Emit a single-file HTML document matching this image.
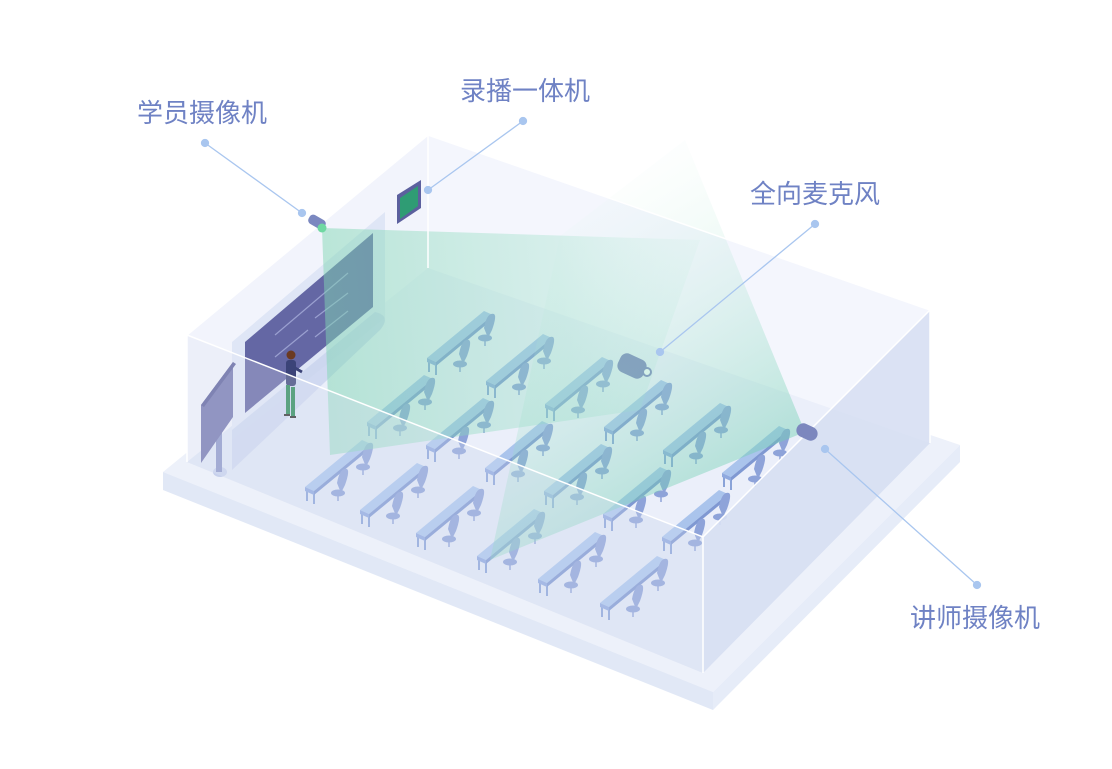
<!DOCTYPE html>
<html><head><meta charset="utf-8"><style>
html,body{margin:0;padding:0;background:#fff;}
svg{display:block;}
text{font-family:"Liberation Sans","Noto Sans CJK SC",sans-serif;font-size:26px;fill:#6f82c4;}
</style></head><body>
<svg width="1112" height="769" viewBox="0 0 1112 769" xmlns="http://www.w3.org/2000/svg">
<defs>
<linearGradient id="g1" x1="320" y1="300" x2="720" y2="260" gradientUnits="userSpaceOnUse">
<stop offset="0" stop-color="#7fd6b2" stop-opacity="0.5"/>
<stop offset="0.6" stop-color="#8fdcc0" stop-opacity="0.3"/>
<stop offset="1" stop-color="#bfeede" stop-opacity="0.08"/>
</linearGradient>
<linearGradient id="g2" x1="805" y1="432" x2="650" y2="170" gradientUnits="userSpaceOnUse">
<stop offset="0" stop-color="#6fcfb0" stop-opacity="0.45"/>
<stop offset="1" stop-color="#c8f0e0" stop-opacity="0.05"/>
</linearGradient>
<g id="desk">
<line x1="2" y1="4" x2="2" y2="14" stroke="#8aa3d8" stroke-width="2"/>
<line x1="9" y1="7" x2="9" y2="17" stroke="#8aa3d8" stroke-width="2"/>
<line x1="64" y1="-39" x2="64" y2="-29" stroke="#8aa3d8" stroke-width="2"/>
<polygon points="0,0 57,-47 66,-43 9,4" fill="#aac4ec"/>
<polygon points="0,0 9,4 9,8 0,4" fill="#8fa9df"/>
<polygon points="9,4 66,-43 66,-39 9,8" fill="#7f98d2"/>
<g fill="#8ea3d9">
<path d="M32,-4 q3,-16 10,-14 q3,2 -2,16 l-4,8 z"/>
<ellipse cx="33" cy="6" rx="7" ry="3.5"/>
<line x1="33" y1="7" x2="33" y2="14" stroke="#8ea3d9" stroke-width="1.5"/>
<path d="M57,-30 q3,-16 10,-14 q3,2 -2,16 l-4,8 z"/>
<ellipse cx="58" cy="-20" rx="7" ry="3.5"/>
<line x1="58" y1="-19" x2="58" y2="-12" stroke="#8ea3d9" stroke-width="1.5"/>
</g>
</g>
</defs>

<polygon points="163,472 420,262 960,445 713,692" fill="#edf1fa"/>
<polygon points="163,472 713,692 713,710 163,490" fill="#e1e8f6"/>
<polygon points="713,692 960,445 960,462 713,710" fill="#e6ecf8"/>

<polygon points="187,335 428,135 428,268 187,462" fill="#eef1fa"/>
<polygon points="428,135 930,310 930,443 428,268" fill="#f3f5fc"/>
<polygon points="187,462 428,268 930,443 703,673" fill="#dde4f4"/>
<polygon points="187,335 428,135 930,310 703,537" fill="#f5f7fd" opacity="0.6"/>

<polygon points="232,342 385,212 385,318 232,440" fill="#dfe6f6"/>
<path d="M232,440 L232,470 L380,330 Q392,316 375,312 L232,430 Z" fill="#c5d0ec" opacity="0.7"/>
<polygon points="245,342 373,233 373,307 245,413" fill="#6467a4"/>
<g stroke="#9aa0d0" stroke-width="1.2"><line x1="275" y1="335" x2="348" y2="273"/><line x1="315" y1="318" x2="348" y2="293"/><line x1="275" y1="357" x2="308" y2="330"/><line x1="315" y1="337" x2="348" y2="311"/></g>

<ellipse cx="220" cy="472" rx="7" ry="5" fill="#c6d0ec"/>
<rect x="216" y="420" width="6" height="52" fill="#8d97c8"/>
<polygon points="201,405 233,362 233,417 201,463" fill="#7478b0"/>
<polygon points="201,405 233,362 236,364 204,407" fill="#5c609c"/>

<g>
<circle cx="291" cy="355" r="4.5" fill="#6b3a22"/>
<rect x="286" y="360" width="10" height="26" rx="3" fill="#3b4378"/>
<line x1="295" y1="368" x2="302" y2="372" stroke="#3b4378" stroke-width="3"/>
<rect x="286" y="385" width="4" height="30" fill="#2c8a5a"/>
<rect x="291" y="387" width="4" height="30" fill="#2c8a5a"/>
<rect x="284" y="414" width="6" height="2" fill="#333"/>
<rect x="290" y="416" width="6" height="2" fill="#333"/>
</g>

<g>
<use href="#desk" x="427" y="358"/><use href="#desk" x="486" y="381"/><use href="#desk" x="545" y="404"/><use href="#desk" x="604" y="427"/><use href="#desk" x="663" y="450"/><use href="#desk" x="722" y="473"/>
<use href="#desk" x="367" y="422"/><use href="#desk" x="426" y="445"/><use href="#desk" x="485" y="468"/><use href="#desk" x="544" y="491"/><use href="#desk" x="603" y="514"/><use href="#desk" x="662" y="537"/>
<use href="#desk" x="305" y="487"/><use href="#desk" x="360" y="510"/><use href="#desk" x="416" y="533"/><use href="#desk" x="477" y="556"/><use href="#desk" x="538" y="579"/><use href="#desk" x="600" y="603"/>
</g>

<rect x="618" y="356" width="28" height="20" rx="7" fill="#7276b6" transform="rotate(25 632 366)"/>
<circle cx="647" cy="372" r="4" fill="#fff" stroke="#7276b6" stroke-width="2"/>

<polygon points="322,228 700,240 640,410 330,455" fill="url(#g1)"/>
<polygon points="805,432 685,140 560,236 490,560" fill="url(#g2)"/>

<polygon points="187,335 703,537 703,673 187,462" fill="#e8edf9" opacity="0.25"/>
<polygon points="703,537 930,310 930,443 703,673" fill="#d8e0f3" opacity="0.9"/>

<g stroke="#fff" stroke-width="1.5" fill="none">
<polyline points="187,462 187,335 428,135 930,310 930,443"/>
<polyline points="187,335 703,537 930,310"/>
<line x1="703" y1="537" x2="703" y2="673"/>
<line x1="428" y1="135" x2="428" y2="268"/>
</g>

<polygon points="397,195 421,180 421,208 397,224" fill="#5c609e"/>
<polygon points="400,198 418,186 418,206 400,219" fill="#2f9c74"/>

<rect x="308" y="217" width="18" height="10" rx="4" fill="#7b88c0" transform="rotate(30 317 222)"/>
<circle cx="322" cy="228" r="4.5" fill="#6fd8a2"/>
<rect x="796" y="425" width="22" height="14" rx="7" fill="#7c87be" transform="rotate(25 807 432)"/>

<g stroke="#a9c6ef" stroke-width="1.3" fill="#a9c6ef">
<line x1="205" y1="143" x2="302" y2="213"/><circle cx="205" cy="143" r="3.5"/><circle cx="302" cy="213" r="3.5"/>
<line x1="523" y1="121" x2="428" y2="190"/><circle cx="523" cy="121" r="3.5"/><circle cx="428" cy="190" r="3.5"/>
<line x1="815" y1="224" x2="660" y2="352"/><circle cx="815" cy="224" r="3.5"/><circle cx="660" cy="352" r="3.5"/>
<line x1="977" y1="585" x2="825" y2="449"/><circle cx="977" cy="585" r="3.5"/><circle cx="825" cy="449" r="3.5"/>
</g>
<text x="137" y="122">学员摄像机</text>
<text x="460" y="100">录播一体机</text>
<text x="750" y="203">全向麦克风</text>
<text x="910" y="627">讲师摄像机</text>
</svg>
</body></html>
